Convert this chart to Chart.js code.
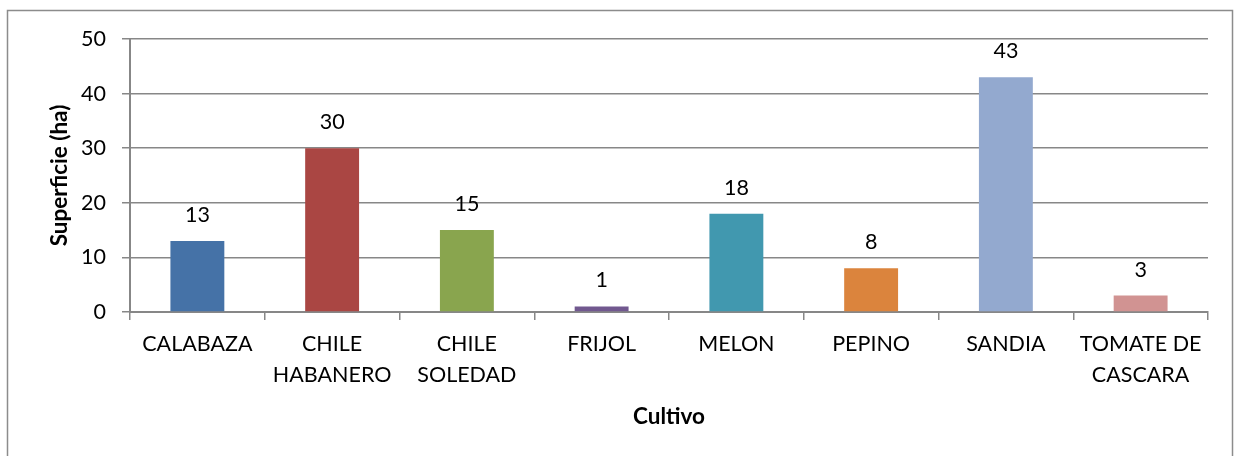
<!DOCTYPE html>
<html>
<head>
<meta charset="utf-8">
<script src="https://cdn.jsdelivr.net/npm/chart.js@4/dist/chart.umd.min.js"></script>
<style>
  html, body { margin: 0; padding: 0; background: #fff; }
  #wrap { width: 1236px; height: 456px; position: relative; }
</style>
</head>
<body>
<div id="wrap"><canvas id="chart"></canvas></div>
<script>
// data
const cultivos = ["CALABAZA", ["CHILE", "HABANERO"], ["CHILE", "SOLEDAD"], "FRIJOL", "MELON", "PEPINO", "SANDIA", ["TOMATE DE", "CASCARA"]];
const superficie = [13, 30, 15, 1, 18, 8, 43, 3];
const colores = ["#4572A7", "#AA4643", "#89A54E", "#71588F", "#4198AF", "#DB843D", "#93A9CF", "#D19392"];
const yTicks = [0, 10, 20, 30, 40, 50];

const FONT = "Lato, 'Open Sans', sans-serif";
const gris = "#878787";

// border round the whole chart, like the excel frame
const frame = {
    id: "frame",
    beforeDraw(chart) {
        const ctx = chart.ctx;
        ctx.save();
        ctx.strokeStyle = "#8c8c8c";
        ctx.lineWidth = 1.5;
        ctx.strokeRect(7.5, 10.5, 1225, 460);
        ctx.restore();
    }
};

// value on top of every bar
const etiquetas = {
    id: "etiquetas",
    afterDatasetsDraw(chart) {
        const ctx = chart.ctx;
        const meta = chart.getDatasetMeta(0);
        ctx.save();
        ctx.font = "21.5px " + FONT;
        ctx.fillStyle = "#000";
        ctx.textAlign = "center";
        ctx.textBaseline = "middle";
        meta.data.forEach(function(bar, i) {
            ctx.fillText(String(superficie[i]), bar.x, bar.y - 26);
        });
        ctx.restore();
    }
};

new Chart(document.getElementById("chart"), {
    type: "bar",
    data: {
        labels: cultivos,
        datasets: [{
            data: superficie,
            backgroundColor: colores,
            borderWidth: 0,
            categoryPercentage: 1,
            barPercentage: 0.4
        }]
    },
    options: {
        responsive: true,
        maintainAspectRatio: false,
        animation: false,
        events: [],
        layout: { padding: { left: 0, top: 39, right: 28, bottom: 0 } },
        plugins: {
            legend: { display: false },
            tooltip: { enabled: false }
        },
        scales: {
            x: {
                grid: {
                    offset: true,
                    drawOnChartArea: false,
                    drawTicks: true,
                    tickLength: 8,
                    color: gris,
                    lineWidth: 1.5
                },
                border: { color: gris, width: 2 },
                ticks: {
                    color: "#000",
                    font: { family: FONT, size: 21.5, lineHeight: 1.45 },
                    padding: 8,
                    maxRotation: 0,
                    autoSkip: false
                },
                title: {
                    display: true,
                    text: "Cultivo",
                    color: "#000",
                    font: { family: FONT, size: 22.5, weight: "bold" },
                    padding: { bottom: 26, top: 0 }
                },
                afterFit(scale) { scale.height = 144; }
            },
            y: {
                min: 0,
                max: 50,
                afterBuildTicks(scale) {
                    scale.ticks = yTicks.map(function(v) { return { value: v }; });
                },
                grid: {
                    color: gris,
                    lineWidth: 1.5,
                    drawTicks: true,
                    tickLength: 8
                },
                border: { color: gris, width: 2 },
                ticks: {
                    color: "#000",
                    font: { family: FONT, size: 21.5 },
                    padding: 16
                },
                title: {
                    display: true,
                    text: "Superficie (ha)",
                    color: "#000",
                    font: { family: FONT, size: 22.5, weight: "bold" },
                    padding: { top: 46, bottom: 0 }
                },
                afterFit(scale) { scale.width = 130; }
            }
        }
    },
    plugins: [frame, etiquetas]
});
</script>
</body>
</html>
